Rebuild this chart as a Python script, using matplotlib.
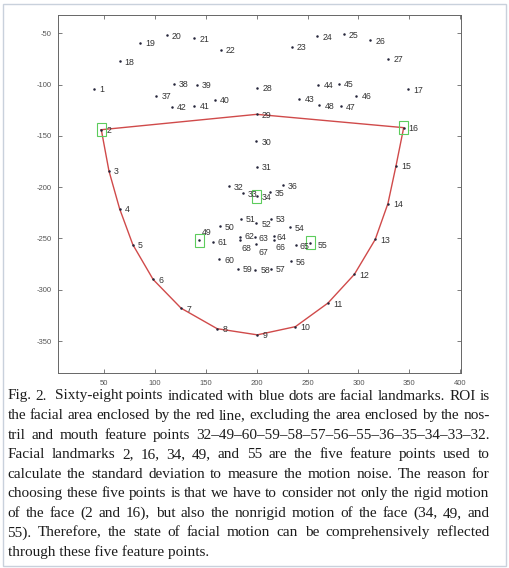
import re
import matplotlib
matplotlib.use('Agg')
import matplotlib.pyplot as plt
from matplotlib.patches import Rectangle

# ---------------- data ----------------
landmark_ids = list(range(1, 69))
x_vals = [40, 47, 54.5, 65, 78, 98, 125.5, 161, 200.5, 238, 270, 296, 316.5, 329, 337, 344.5, 349,
          65, 85, 111.5, 138.5, 164.5, 234.5, 259.5, 285.5, 311.5, 329.5,
          200.5, 200, 199.5, 200, 172.5, 186.5, 200, 212.5, 225.5,
          101, 118.5, 141, 158.5, 138.5, 116.5, 242, 260.5, 281, 298, 282.5, 261.5,
          143.5, 163.5, 184, 199.5, 213.5, 232.5, 252.5, 233.5, 214, 198.5, 181.5, 163,
          156.5, 183, 198, 216.5, 238.5, 216.5, 199.5, 183]
y_vals = [-104, -144, -184, -221, -256, -290, -318, -338, -344, -336, -313, -285, -251, -216, -179, -142, -104.5,
          -77, -59, -52, -55, -66, -63, -53, -51, -57, -75,
          -103, -129, -155, -180, -199, -206, -209, -205, -198,
          -111, -99, -100, -115, -120.5, -121.5, -114, -100, -99, -111, -121, -120,
          -252, -238, -231, -235, -231, -239, -254, -272, -279.5, -280.5, -279.5, -270.5,
          -253, -248.5, -249, -248, -256.5, -252, -255, -252]
roi_path = [2, 3, 4, 5, 6, 7, 8, 9, 10, 11, 12, 13, 14, 15, 16, 29, 2]
feature_points = [2, 16, 34, 49, 55]
x_ticks = [50, 100, 150, 200, 250, 300, 350, 400]
y_ticks = [-350, -300, -250, -200, -150, -100, -50]

caption_lines = [
    "Fig. 2.  Sixty-eight points indicated with blue dots are facial landmarks. ROI is",
    "the facial area enclosed by the red line, excluding the area enclosed by the nos-",
    "tril and mouth feature points 32\u201349\u201360\u201359\u201358\u201357\u201356\u201355\u201336\u201335\u201334\u201333\u201332.",
    "Facial landmarks 2, 16, 34, 49, and 55 are the five feature points used to",
    "calculate the standard deviation to measure the motion noise. The reason for",
    "choosing these five points is that we have to consider not only the rigid motion",
    "of the face (2 and 16), but also the nonrigid motion of the face (34, 49, and",
    "55). Therefore, the state of facial motion can be comprehensively reflected",
    "through these five feature points.",
]

# ---------------- layout / style ----------------
W, H = 509, 568
label_offsets = {49: (2.5, 8), 68: (2, -8), 67: (1.7, -9), 66: (2.2, -6.5), 64: (2.5, -1.5),
                 63: (3.5, -1), 55: (7, -3), 65: (3.5, -1.5), 62: (4.5, 0.5)}

fig = plt.figure(figsize=(W / 100, H / 100), dpi=100)
fig.patch.set_facecolor('white')
ax = fig.add_axes([58.3 / W, 1 - 372.7 / H, (460.7 - 58.3) / W, (372.7 - 15.3) / H])

px = dict(zip(landmark_ids, x_vals))
py = dict(zip(landmark_ids, y_vals))

ax.plot([px[i] for i in roi_path], [py[i] for i in roi_path], color='#d04a4a', lw=1.0, zorder=2)
ax.plot(x_vals, y_vals, ls='none', marker='o', ms=1.8, mew=0, color='#26263a', zorder=3)
for fp in feature_points:
    ax.add_patch(Rectangle((px[fp] - 4.5, py[fp] - 6.5), 9, 13, fill=False,
                           ec='#5ccc5c', lw=0.8, zorder=4))
for i, xv, yv in zip(landmark_ids, x_vals, y_vals):
    dx, dy = label_offsets.get(i, (5, -1))
    ax.text(xv + dx, yv + dy, str(i), fontsize=6.3, color='#333333', va='center', ha='left',
            family='Liberation Sans', zorder=5)

ax.set_xlim(4.7, 400.6)
ax.set_ylim(-380.9, -32.45)
ax.set_xticks(x_ticks)
ax.set_yticks(y_ticks)
ax.set_xticklabels([str(t) for t in x_ticks])
ax.set_yticklabels([str(t) for t in y_ticks])
ax.tick_params(direction='in', length=3, width=0.6, top=True, right=True, labelsize=5.5,
               labelcolor='#555555', color='#666666', pad=5)
for lab in ax.get_xticklabels() + ax.get_yticklabels():
    lab.set_family('Liberation Sans')
for s in ax.spines.values():
    s.set_color('#666666')
    s.set_linewidth(0.7)

# ---------------- caption (justified) ----------------
renderer = fig.canvas.get_renderer()
left_px, right_px = 7.5, 489.5
fs = 11
cap_kw = dict(fontsize=fs, family='Liberation Serif', color='#1c1c1c', ha='left', va='baseline')


def text_width(s):
    t = fig.text(0, 0, s, **cap_kw)
    w = t.get_window_extent(renderer).width
    t.remove()
    return w


for li, line in enumerate(caption_lines):
    base_y = 395 + li * 19.55 + 4.5
    yf = 1 - base_y / H
    if li == len(caption_lines) - 1:
        fig.text(left_px / W, yf, line, **cap_kw)
        continue
    spans = [(m.start(), m.end()) for m in re.finditer(r'\S+', line)]
    natural_total = text_width(line)
    n_gaps = 0
    gap_weights = []
    for k in range(1, len(spans)):
        gap_weights.append(spans[k][0] - spans[k - 1][1])
    extra = (right_px - left_px - natural_total) / sum(gap_weights)
    cum = 0
    for k, (a, b) in enumerate(spans):
        word = line[a:b]
        natural_start = text_width(line[:b]) - text_width(word)
        if k > 0:
            cum += gap_weights[k - 1]
        xpos = left_px + natural_start + extra * cum
        fig.text(xpos / W, yf, word, **cap_kw)

fig.patches.append(Rectangle((3 / W, 1 - 566 / H), 503 / W, 562 / H, transform=fig.transFigure,
                             fill=False, ec='#c9d1dc', lw=1))

fig.savefig('out.png', dpi=100)
